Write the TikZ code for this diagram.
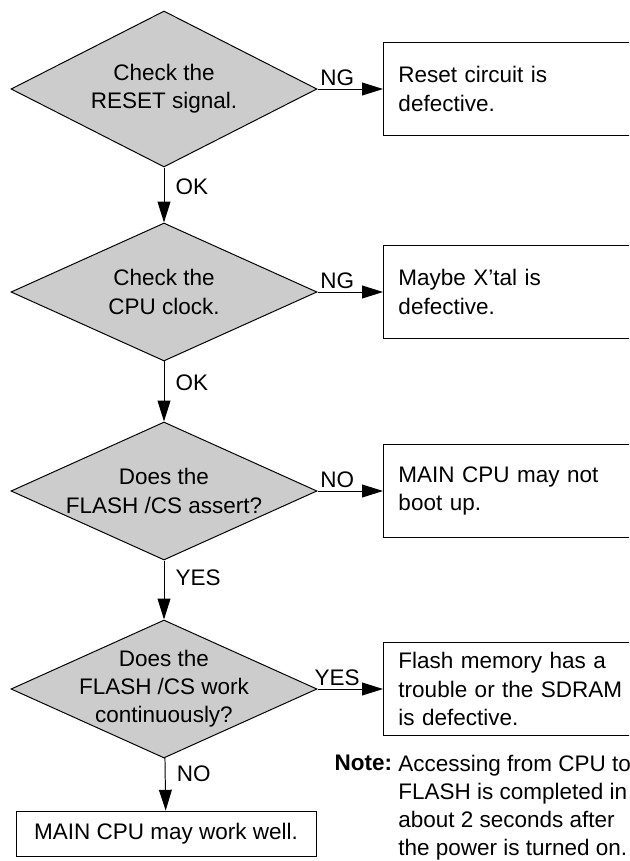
\documentclass[tikz,border=0pt]{standalone}
\usepackage{fontspec}
\setmainfont{Liberation Sans}
\usetikzlibrary{arrows.meta,shapes.geometric}
\definecolor{cDec}{RGB}{204,204,204}
\newcommand\chartfont{\fontsize{16pt}{20pt}\selectfont}

\begin{document}
\begin{tikzpicture}[
  >={Triangle[length=0.52cm,width=0.32cm]},
  font=\chartfont,
  % diamonds are drawn empty, their text is set on top of them
  dec/.style={draw,diamond,fill=cDec,line width=0.7pt,
              minimum width=7.65cm,minimum height=3.45cm,inner sep=0pt},
  res/.style={draw,line width=0.7pt,anchor=west,minimum height=2.33cm,
              text width=5.85cm,inner xsep=0.375cm,align=left},
  arr/.style={->,line width=0.7pt},
  lbl/.style={inner sep=2pt},
  vlbl/.style={lbl,right,xshift=6pt},
  note/.style={align=left,inner sep=2pt},
]
\useasboundingbox (0,0) rectangle (15.725,-21.525);
\clip (0,0) rectangle (15.725,-21.525);

% ------------------------------------------------------------------ decisions
\node[dec,minimum height=3.9cm] (d1) at (4.1,-2.225)  {};
\node[dec]                      (d2) at (4.1,-7.3)    {};
\node[dec]                      (d3) at (4.1,-12.275) {};
\node[dec]                      (d4) at (4.1,-17.225) {};

\node[align=center] (t1) at (d1) {Check the\\RESET signal.};
\node[align=center] (t2) at (d2) {Check the\\CPU clock.};
\node[align=center] (t3) at (d3) {Does the\\FLASH /CS assert?};
\node[align=center] (t4) at (d4) {Does the\\FLASH /CS work\\continuously?};

% -------------------------------------------------------------------- results
\node[res] (r1) at (9.575,-2.225)  {Reset circuit is\\defective.};
\node[res] (r2) at (9.575,-7.3)    {Maybe X'tal is\\defective.};
\node[res] (r3) at (9.575,-12.275) {MAIN CPU may not\\boot up.};
\node[res] (r4) at (9.575,-17.225) {Flash memory has a\\trouble or the SDRAM\\is defective.};

\node[draw,line width=0.7pt,minimum width=7.5cm,minimum height=1.125cm]
      (ok) at (4.15,-20.84) {MAIN CPU may work well.};

% ---------------------------------------------------------------------- flow
\draw[arr] (d1) -- node[lbl,above,pos=0.3] {NG}  (r1);
\draw[arr] (d2) -- node[lbl,above,pos=0.3] {NG}  (r2);
\draw[arr] (d3) -- node[lbl,above,pos=0.3] {NO}  (r3);
\draw[arr] (d4) -- node[lbl,above,pos=0.3] {YES} (r4);

\draw[arr] (d1) -- node[vlbl,pos=0.35] {OK}  (d2);
\draw[arr] (d2) -- node[vlbl,pos=0.35] {OK}  (d3);
\draw[arr] (d3) -- node[vlbl,pos=0.3]  {YES} (d4);
\draw[arr] (d4) -- node[vlbl,pos=0.3]  {NO}  (ok);

% ---------------------------------------------------------------------- note
\node[note,anchor=north west] (note) at (9.88,-18.8)
      {Accessing from CPU to\\FLASH is completed in\\about 2 seconds after\\the power is turned on.};
\node[lbl,font=\chartfont\bfseries,anchor=north east] (notehd) at (note.north west) {Note:};

\end{tikzpicture}
\end{document}
